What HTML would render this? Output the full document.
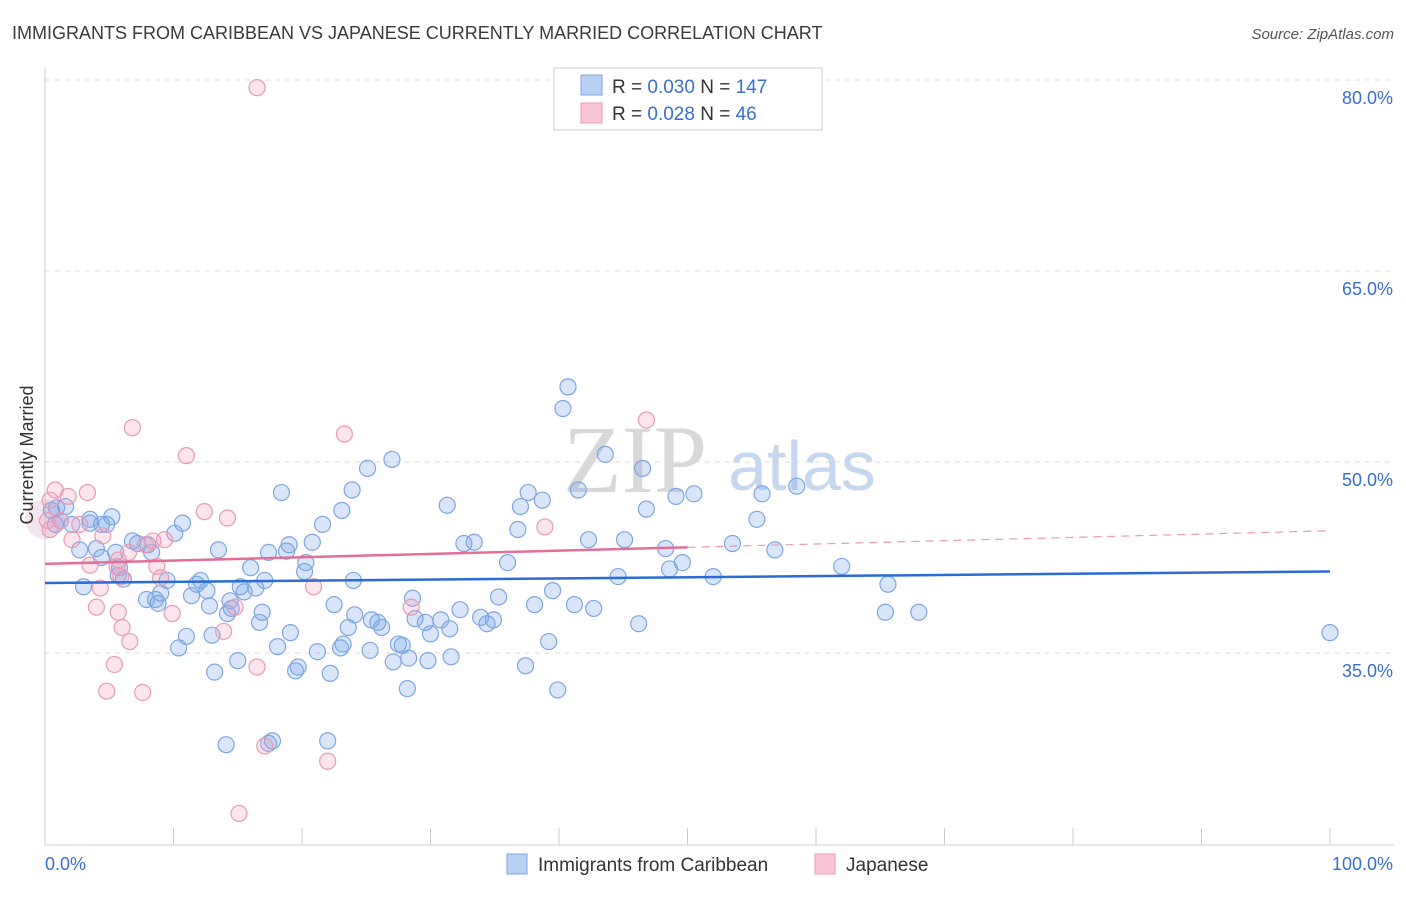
<!DOCTYPE html>
<html><head><meta charset="utf-8"><style>
body{margin:0;background:#fff;width:1406px;height:892px;overflow:hidden;font-family:"Liberation Sans",sans-serif}
</style></head><body>
<svg id="chart" width="1406" height="892" xmlns="http://www.w3.org/2000/svg" font-family="Liberation Sans, sans-serif">
<text x="12" y="39" font-size="18" fill="#3a3a3a">IMMIGRANTS FROM CARIBBEAN VS JAPANESE CURRENTLY MARRIED CORRELATION CHART</text>
<text x="1394" y="39" font-size="15" fill="#555" font-style="italic" text-anchor="end">Source: ZipAtlas.com</text>
<g id="grid"></g>
<g>
<text x="635" y="492" font-size="96" fill="#d8d8d8" font-family="Liberation Serif, serif" text-anchor="middle">ZIP</text>
<text x="802" y="490" font-size="70" fill="#c5d8ef" text-anchor="middle">atlas</text>
</g>
<g id="axes"></g>
<g id="pts"></g>
<g id="trend"></g>
<text transform="translate(33,455) rotate(-90)" font-size="18" fill="#333" text-anchor="middle">Currently Married</text>
<g>
<rect x="554" y="68" width="268" height="62" fill="#fff" stroke="#ccc"/>
<rect x="581" y="75" width="21" height="20" fill="#b9d0f3" stroke="#7fa6e0"/>
<text x="612" y="93" font-size="19" fill="#333">R = <tspan fill="#3a6fd0">0.030</tspan>   N = <tspan fill="#3a6fd0">147</tspan></text>
<rect x="581" y="103" width="21" height="20" fill="#f8c6d6" stroke="#e89ab5"/>
<text x="612" y="120" font-size="19" fill="#333">R =  <tspan fill="#3a6fd0">0.028</tspan>   N =  <tspan fill="#3a6fd0"> 46</tspan></text>
</g>
<g>
<rect x="507" y="854" width="20" height="20" fill="#b9d0f3" stroke="#7fa6e0"/>
<text x="538" y="871" font-size="19" fill="#333">Immigrants from Caribbean</text>
<rect x="815" y="854" width="20" height="20" fill="#f8c6d6" stroke="#e89ab5"/>
<text x="846" y="871" font-size="19" fill="#333">Japanese</text>
</g>
</svg>
<script>
const blueX=[40.7,40.3,43.6,46.5,27.0,25.1,23.9,23.1,18.4,31.3,37.6,38.7,37.0,41.5,46.8,49.1,50.5,55.8,58.5,55.4,53.5,56.8,62.0,65.6,65.4,68.0,100,52.0,49.6,48.6,48.3,45.1,42.3,44.6,46.2,39.5,41.2,42.7,38.1,39.2,37.4,39.9,35.3,33.4,32.6,36.0,36.8,34.9,33.9,34.4,32.3,31.5,30.8,30.0,28.6,28.8,29.6,31.6,29.8,28.3,28.2,27.5,27.8,27.1,25.4,25.9,26.2,25.3,24.0,24.1,23.6,23.2,23.0,22.5,21.6,20.8,20.3,20.2,19.0,18.8,17.4,17.1,16.0,16.4,16.9,16.7,15.2,15.5,14.4,14.2,14.5,13.5,12.6,12.8,12.1,11.8,11.4,10.7,10.1,9.5,9.0,8.8,8.6,7.9,8.3,8.0,7.2,6.8,6.1,5.7,5.8,5.5,4.4,4.0,2.7,3.0,2.1,1.6,3.5,4.4,4.8,5.2,3.5,1.2,0.9,0.8,0.5,11.0,10.4,13.0,13.2,15.0,14.1,17.7,19.7,19.5,21.2,22.2,22.0,19.1,18.1,17.4];
const blueY=[55.9,54.2,50.6,49.5,50.2,49.5,47.8,46.2,47.6,46.6,47.6,47.0,46.5,47.8,46.3,47.3,47.5,47.5,48.1,45.5,43.6,43.1,41.8,40.4,38.2,38.2,36.6,41.0,42.1,41.6,43.2,43.9,43.9,41.0,37.3,39.9,38.8,38.5,38.8,35.9,34.0,32.1,39.4,43.7,43.6,42.1,44.7,37.6,37.8,37.3,38.4,36.9,37.6,36.5,39.3,37.7,37.4,34.7,34.4,34.6,32.2,35.7,35.6,34.3,37.6,37.4,37.0,35.2,40.7,38.0,37.0,35.7,35.4,38.8,45.1,43.7,42.1,41.4,43.5,43.0,42.9,40.7,41.7,40.1,38.2,37.4,40.2,39.8,39.1,38.1,38.5,43.1,39.9,38.7,40.7,40.4,39.5,45.2,44.4,40.7,39.7,38.9,39.2,39.2,42.9,43.5,43.6,43.8,40.8,41.1,41.7,42.9,42.5,43.2,43.1,40.2,45.1,46.5,45.2,45.1,45.1,45.7,45.5,45.4,46.4,45.1,46.2,36.3,35.4,36.4,33.5,34.4,27.8,28.1,33.9,33.6,35.1,33.4,28.1,36.6,35.5,27.9];
const pinkX=[16.5,46.8,23.3,6.8,11.0,12.4,14.2,38.9,3.3,1.8,0.8,0.4,0.2,1.2,2.7,2.1,4.5,5.7,6.5,7.8,8.4,9.3,8.7,9.0,5.9,5.6,4.0,4.3,5.7,6.0,6.6,9.9,14.8,13.9,16.5,5.4,4.8,7.6,17.1,22.0,15.1,20.9,28.5,3.5,0.4];
const pinkY=[79.4,53.3,52.2,52.7,50.5,46.1,45.6,44.9,47.6,47.3,47.8,47.0,45.4,45.4,45.1,43.9,44.2,42.3,42.9,43.5,43.8,43.9,41.8,40.9,41.0,41.8,38.6,40.1,38.2,37.0,35.9,38.1,38.6,36.7,33.9,34.1,32.0,31.9,27.7,26.5,22.4,40.2,38.6,41.9,44.7];
const blueTrend=[40.5,41.4];
const pinkTrend=[42.0,44.6];
const yTicks=[35,50,65,80];
const xTickLabels=["0.0%","100.0%"];

const NS="http://www.w3.org/2000/svg";
const X0=45,X1=1330,xs=v=>X0+(X1-X0)*v/100;
const ys=v=>462-(v-50)*191/15;
function mk(t,a,p){const e=document.createElementNS(NS,t);for(const k in a)e.setAttribute(k,a[k]);p.appendChild(e);return e;}
const grid=document.getElementById('grid'),axes=document.getElementById('axes');
yTicks.forEach(v=>{
 const l=mk('line',{x1:45,x2:1394,y1:ys(v),y2:ys(v),stroke:'#ddd','stroke-dasharray':'5,5'},grid);
 
 
 const t=mk('text',{x:1393,y:ys(v)+24,'font-size':18,fill:'#3a6fd0','text-anchor':'end'},axes);
 t.textContent=v.toFixed(1)+'%';
 
 
});
mk('line',{x1:45,x2:45,y1:68,y2:845,stroke:'#ccc'},axes);
mk('line',{x1:45,x2:1394,y1:845,y2:845,stroke:'#ccc'},axes);
for(let i=0;i<=10;i++){mk('line',{x1:xs(i*10),x2:xs(i*10),y1:828,y2:845,stroke:'#ccc'},axes);}
const xl0=mk('text',{x:45,y:870,'font-size':18,fill:'#3a6fd0'},axes);xl0.textContent=xTickLabels[0];


const xl1=mk('text',{x:1393,y:870,'font-size':18,fill:'#3a6fd0','text-anchor':'end'},axes);xl1.textContent=xTickLabels[1];


const pts=document.getElementById('pts');
const big=mk('circle',{cx:xs(0),cy:ys(45.5),r:20,fill:'rgba(220,180,210,0.35)',stroke:'none'},pts);


blueX.forEach((x,i)=>{const c=mk('circle',{cx:xs(x),cy:ys(blueY[i]),r:8,fill:'rgba(120,165,235,0.28)',stroke:'#7fa6e0','stroke-width':1.2},pts);
 
 });
pinkX.forEach((x,i)=>{const c=mk('circle',{cx:xs(x),cy:ys(pinkY[i]),r:8,fill:'rgba(245,160,190,0.28)',stroke:'#e89ab5','stroke-width':1.2},pts);
 
 });
const tr=document.getElementById('trend');
const bl=mk('line',{x1:xs(0),y1:ys(blueTrend[0]),x2:xs(100),y2:ys(blueTrend[1]),stroke:'#2a6bd6','stroke-width':2.5},tr);


const pm=pinkTrend[0]+(pinkTrend[1]-pinkTrend[0])*0.5;
const pl=mk('line',{x1:xs(0),y1:ys(pinkTrend[0]),x2:xs(50),y2:ys(pm),stroke:'#e0709a','stroke-width':2.5},tr);


const pd=mk('line',{x1:xs(50),y1:ys(pm),x2:xs(100),y2:ys(pinkTrend[1]),stroke:'#e89ab5','stroke-width':1.2,'stroke-dasharray':'8,6'},tr);


</script>
</body></html>
